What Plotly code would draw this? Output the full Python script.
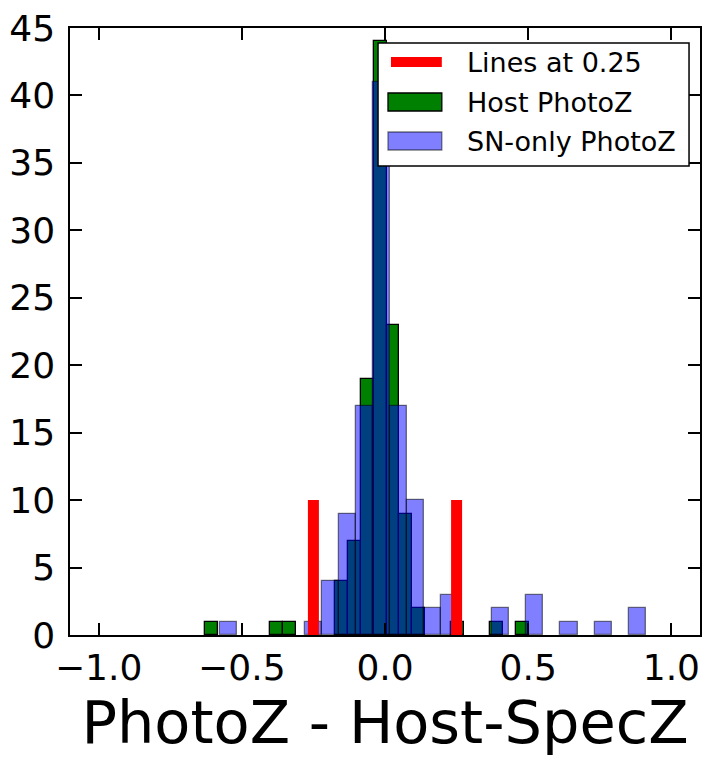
import numpy as np
import plotly.graph_objects as go

# Histogram of PhotoZ - Host-SpecZ residuals
host_bin_start = -0.628
host_bin_width = 0.04524
host_counts = [1, 0, 0, 0, 0, 1, 1, 0, 0, 0, 4, 7, 19, 44, 23, 9, 2, 0, 0, 1, 0, 0, 1, 0, 1]

sn_bin_start = -0.576
sn_bin_width = 0.05944
sn_counts = [1, 0, 0, 0, 0, 1, 4, 9, 17, 41, 17, 10, 2, 3, 0, 0, 2, 0, 3, 0, 1, 0, 1, 0, 2]

line_positions = [-0.25, 0.25]
line_height = 10

x_ticks = [-1.0, -0.5, 0.0, 0.5, 1.0]
y_ticks = list(range(0, 50, 5))

legend_labels = ["Lines at 0.25", "Host PhotoZ", "SN-only PhotoZ"]

W, H = 707, 760
ML, MR, MT, MB = 70, 5, 28, 125
PW, PH = W - ML - MR, H - MT - MB


def centers(start, width, counts):
    c = np.asarray(counts)
    xc = start + width * (np.arange(len(c)) + 0.5)
    keep = c > 0
    return xc[keep], c[keep]


hx, hy = centers(host_bin_start, host_bin_width, host_counts)
sx, sy = centers(sn_bin_start, sn_bin_width, sn_counts)

lx, ly = [], []
for p in line_positions:
    lx += [p, p, None]
    ly += [0, line_height, None]

fig = go.Figure()
fig.add_trace(go.Scatter(x=lx, y=ly, mode="lines", name=legend_labels[0],
                         line=dict(color="#ff0000", width=11), showlegend=False))
fig.add_trace(go.Bar(x=hx, y=hy, width=host_bin_width, name=legend_labels[1],
                     marker=dict(color="#008000", line=dict(color="#000000", width=1.3)),
                     showlegend=False))
fig.add_trace(go.Bar(x=sx, y=sy, width=sn_bin_width, name=legend_labels[2],
                     marker=dict(color="rgba(0,0,255,0.5)",
                                 line=dict(color="rgba(0,0,0,0.5)", width=1.3)),
                     showlegend=False))


def px(x):
    return (x - ML) / PW


def py(y):
    return (H - MB - y) / PH


# hand-drawn legend box in the upper right
shapes = [
    dict(type="rect", xref="paper", yref="paper", x0=px(379), x1=px(691), y0=py(43), y1=py(166),
         line=dict(color="black", width=1.5), fillcolor="white", layer="above"),
    dict(type="line", xref="paper", yref="paper", x0=px(392), x1=px(443), y0=py(62), y1=py(62),
         line=dict(color="#ff0000", width=10), layer="above"),
    dict(type="rect", xref="paper", yref="paper", x0=px(389), x1=px(443), y0=py(93), y1=py(111),
         line=dict(color="black", width=1.3), fillcolor="#008000", layer="above"),
    dict(type="rect", xref="paper", yref="paper", x0=px(389), x1=px(443), y0=py(132), y1=py(150),
         line=dict(color="rgba(0,0,0,0.5)", width=1.3), fillcolor="rgba(0,0,255,0.5)", layer="above"),
]
annotations = []
for label, yc in zip(legend_labels, [62, 102, 141]):
    annotations.append(dict(text=label, xref="paper", yref="paper", x=px(466), y=py(yc),
                            xanchor="left", yanchor="middle", showarrow=False,
                            font=dict(size=27, color="black", family="DejaVu Sans")))

axis_common = dict(showline=True, linecolor="black", linewidth=1.5, mirror="ticks",
                   ticks="inside", ticklen=12, tickwidth=1.5, tickcolor="black",
                   showgrid=False, zeroline=False,
                   tickfont=dict(size=36, color="black", family="DejaVu Sans"))

fig.update_layout(
    width=W, height=H,
    margin=dict(l=ML, r=MR, t=MT, b=MB),
    paper_bgcolor="white", plot_bgcolor="white",
    barmode="overlay", bargap=0,
    shapes=shapes, annotations=annotations,
    xaxis=dict(range=[-1.1, 1.1], tickvals=x_ticks, tickformat=".1f",
               title=dict(text="PhotoZ - Host-SpecZ", standoff=14,
                          font=dict(size=59, color="black", family="DejaVu Sans")),
               **axis_common),
    yaxis=dict(range=[0, 45], tickvals=y_ticks, ticklabelstandoff=6, **axis_common),
)

fig.write_html("out.html")
